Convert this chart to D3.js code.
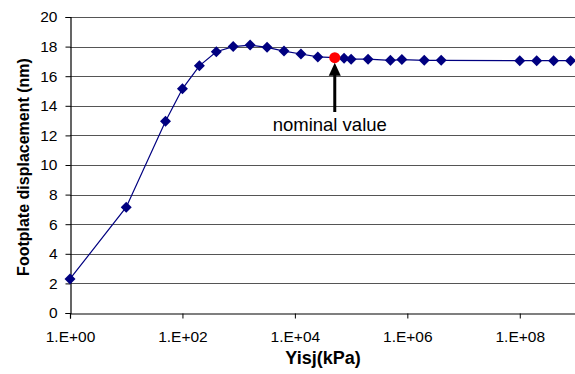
<!DOCTYPE html>
<html>
<head>
<meta charset="utf-8">
<script src="https://cdn.jsdelivr.net/npm/d3@7"></script>
<style>
  body { margin: 0; background: #fff; }
  text { font-family: "Liberation Sans", Arial, sans-serif; }
</style>
</head>
<body>
<div id="chart-area"></div>
<script>
// data
const pressures = [1, 10, 50, 100, 200, 400, 800, 1600, 3200, 6400, 12800, 25600, 51200,
  75000, 1e5, 2e5, 5e5, 8e5, 2e6, 4e6, 1e8, 2e8, 4e8, 8e8];
const displacements = [2.3, 7.15, 12.95, 15.15, 16.7, 17.65, 18.0, 18.1, 17.95, 17.7, 17.5, 17.3, 17.25,
  17.22, 17.15, 17.15, 17.07, 17.12, 17.07, 17.07, 17.05, 17.05, 17.05, 17.05];
const nominal = {x: 51200, y: 17.25};
const xTicks = [1, 1e2, 1e4, 1e6, 1e8];
const xTickLabels = ['1.E+00', '1.E+02', '1.E+04', '1.E+06', '1.E+08'];
const yTicks = [0, 2, 4, 6, 8, 10, 12, 14, 16, 18, 20];

const margin = {left: 70, right: -1, top: 17, bottom: 61};
const width = 575 - margin.left - margin.right;
const height = 374 - margin.top - margin.bottom;

const svg = d3.select('#chart-area').append('svg')
  .attr('width', 575)
  .attr('height', 374);

const canvas = svg.append('g')
  .attr('transform', `translate(${margin.left}, ${margin.top})`);

const x = d3.scaleLog()
  .domain([1, 1e9])
  .range([0, width]);

const y = d3.scaleLinear()
  .domain([0, 20])
  .range([height, 0]);

// gridlines
canvas.append('g')
  .selectAll('line')
  .data(yTicks.filter(d => d > 0))
  .enter()
  .append('line')
  .attr('x1', 0)
  .attr('x2', width)
  .attr('y1', d => Math.round(y(d)) + 0.5)
  .attr('y2', d => Math.round(y(d)) + 0.5)
  .attr('stroke', '#555')
  .attr('stroke-width', 1);

const xAxisCall = d3.axisBottom(x)
  .tickValues(xTicks)
  .tickFormat((d, i) => xTickLabels[i])
  .tickSizeOuter(0)
  .tickSize(5)
  .tickPadding(12);

const xAxisGroup = canvas.append('g')
  .attr('transform', `translate(0, ${Math.round(height) + 0.5})`)
  .call(xAxisCall);

const yAxisCall = d3.axisLeft(y)
  .tickValues(yTicks)
  .tickSizeOuter(0)
  .tickSize(5)
  .tickPadding(8);

const yAxisGroup = canvas.append('g')
  .attr('transform', 'translate(0.5, 0)')
  .call(yAxisCall);

[xAxisGroup, yAxisGroup].forEach(g => {
  g.select('.domain').attr('stroke', '#000').attr('stroke-width', 1.2);
  g.selectAll('.tick line').attr('stroke', '#000');
  g.selectAll('.tick text')
    .attr('fill', '#000')
    .attr('font-size', '15.5px')
    .attr('font-family', '"Liberation Sans", Arial, sans-serif');
});

// series line
const line = d3.line()
  .x(d => x(d[0]))
  .y(d => y(d[1]));

const points = pressures.map((p, i) => [p, displacements[i]]);

canvas.append('path')
  .datum(points)
  .attr('fill', 'none')
  .attr('stroke', '#000080')
  .attr('stroke-width', 1.2)
  .attr('d', line);

const r = 5.5;
canvas.selectAll('.marker')
  .data(points.filter(d => d[0] !== nominal.x))
  .enter()
  .append('path')
  .attr('class', 'marker')
  .attr('fill', '#000080')
  .attr('d', d => {
    const cx = x(d[0]), cy = y(d[1]);
    return `M${cx},${cy - r}L${cx + r},${cy}L${cx},${cy + r}L${cx - r},${cy}Z`;
  });

canvas.append('circle')
  .attr('cx', x(nominal.x))
  .attr('cy', y(nominal.y))
  .attr('r', 5.5)
  .attr('fill', '#ff0000');

// arrow and annotation
const ax = x(nominal.x);
const tipY = y(nominal.y) + 5;
canvas.append('line')
  .attr('x1', ax)
  .attr('x2', ax)
  .attr('y1', tipY + 10)
  .attr('y2', 95)
  .attr('stroke', '#000')
  .attr('stroke-width', 3);

canvas.append('path')
  .attr('fill', '#000')
  .attr('d', `M${ax},${tipY}L${ax + 6},${tipY + 13}L${ax - 6},${tipY + 13}Z`);

canvas.append('text')
  .attr('x', ax - 5)
  .attr('y', 114)
  .attr('text-anchor', 'middle')
  .attr('font-size', '18.5px')
  .text('nominal value');

// axis titles
svg.append('text')
  .attr('x', 323)
  .attr('y', 364)
  .attr('text-anchor', 'middle')
  .attr('font-size', '18px')
  .attr('font-weight', 'bold')
  .text('Yisj(kPa)');

svg.append('text')
  .attr('transform', 'translate(29, 167) rotate(-90)')
  .attr('text-anchor', 'middle')
  .attr('font-size', '16px')
  .attr('font-weight', 'bold')
  .text('Footplate displacement (nm)');
</script>
</body>
</html>
